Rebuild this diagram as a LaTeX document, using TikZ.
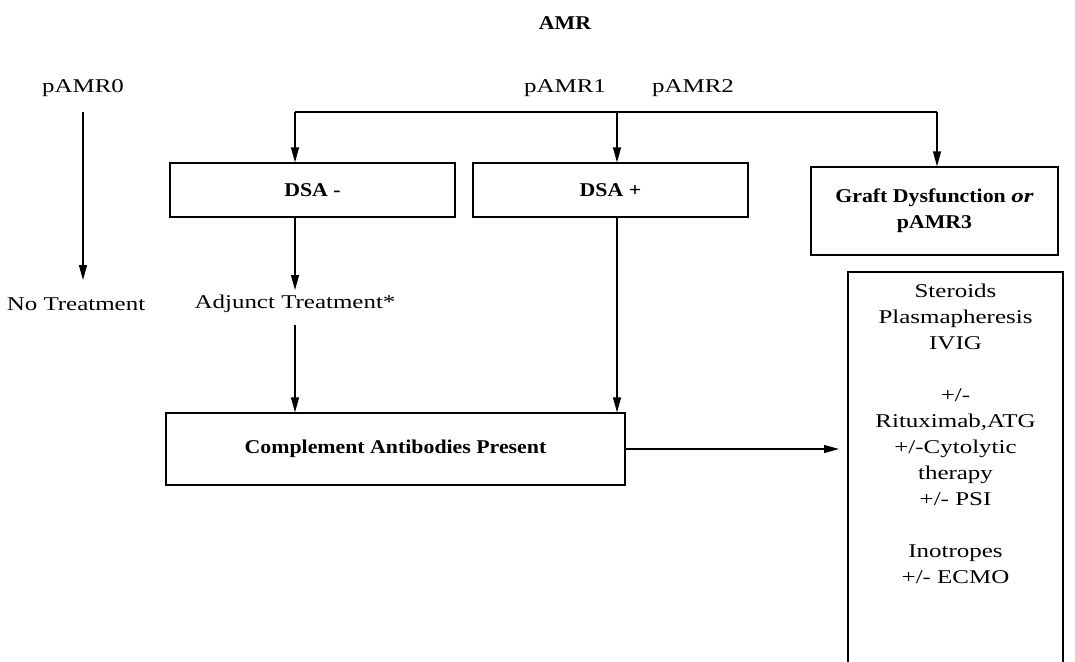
\documentclass[tikz,border=0pt]{standalone}
\usepackage{fontspec}
\setmainfont{Liberation Serif}[FakeStretch=1.28,BoldFeatures={FakeStretch=1.12}]
\usetikzlibrary{arrows.meta}
\begin{document}
\begin{tikzpicture}[x=1pt,y=-1pt,
  every node/.style={font=\fontsize{19.5}{26}\selectfont, inner sep=0pt},
  box/.style={draw, line width=1.3pt},
  arr/.style={line width=1.3pt, -{Triangle[length=15pt,width=8pt]}},
  ln/.style={line width=1.3pt}]
\useasboundingbox (0,0) rectangle (1075,661);
% title
\node[font=\fontsize{19.5}{26}\selectfont\bfseries] (title) at (565,23) {AMR};
% labels
\node (p0) at (83,88) {pAMR0};
\node (p1) at (565,88) {pAMR1};
\node (p2) at (693,88) {pAMR2};
\node (notr) at (76,304) {No Treatment};
\node (adj) at (295,304) {Adjunct Treatment*};
% boxes
\node[box, minimum width=285pt, minimum height=54pt] (dsam) at (312.5,190) {\bfseries DSA -};
\node[box, minimum width=275pt, minimum height=54pt] (dsap) at (610.5,190) {\bfseries DSA +};
\node[box, minimum width=247pt, minimum height=88pt, align=center] (graft) at (934.5,211) {\bfseries Graft Dysfunction \textit{or}\\\bfseries pAMR3};
\node[box, minimum width=459pt, minimum height=72pt] (comp) at (395.5,449) {\bfseries Complement Antibodies Present};
% treatment box (open at bottom)
\coordinate (tbl) at (848,665);
\coordinate (ttl) at (848,272);
\coordinate (ttr) at (1063,272);
\coordinate (tbr) at (1063,665);
\draw[ln] (tbl) -- (ttl) -- (ttr) -- (tbr);
\node[align=center, anchor=north] (treat) at (955.5,284)
  {Steroids\\Plasmapheresis\\IVIG\\[26pt]+/-\\Rituximab,ATG\\+/-Cytolytic\\therapy\\+/- PSI\\[26pt]Inotropes\\+/- ECMO};
% connectors
\coordinate (tl) at (295,112);
\coordinate (tm) at (617,112);
\coordinate (tr) at (937,112);
\draw[ln] (tl) -- (tr);
\draw[arr] (tl) -- (tl |- dsam.north);
\draw[arr] (tm) -- (tm |- dsap.north);
\draw[arr] (tr) -- (tr |- graft.north);
\coordinate (p0b) at (83,112);
\coordinate (nt) at (83,280);
\draw[arr] (p0b) -- (nt);
\draw[arr] (tl |- dsam.south) -- (295,290);
\draw[arr] (295,325) -- (tl |- comp.north);
\draw[arr] (tm |- dsap.south) -- (tm |- comp.north);
\coordinate (tin) at (839,449);
\draw[arr] (comp.east) -- (tin);
\end{tikzpicture}
\end{document}
